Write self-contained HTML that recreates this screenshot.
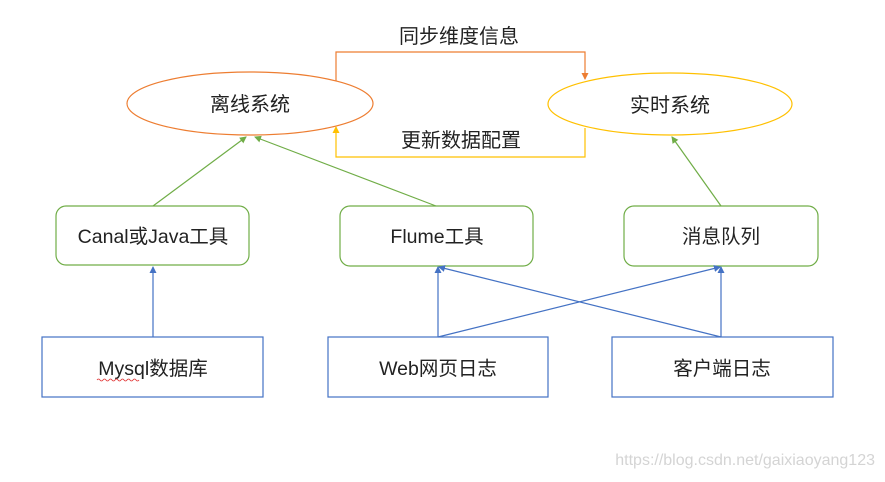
<!DOCTYPE html>
<html><head><meta charset="utf-8"><style>
body{margin:0;background:#fff;}
svg text{font-family:"Liberation Sans","Noto Sans CJK SC",sans-serif;fill:#222;}
</style></head><body>
<svg width="885" height="477" viewBox="0 0 885 477" xmlns="http://www.w3.org/2000/svg">
<defs>
<marker id="ag" markerWidth="8" markerHeight="8" refX="6" refY="4" orient="auto" markerUnits="userSpaceOnUse"><path d="M0,0.5 L7,4 L0,7.5z" fill="#70ad47"/></marker>
<marker id="ab" markerWidth="8" markerHeight="8" refX="6" refY="4" orient="auto" markerUnits="userSpaceOnUse"><path d="M0,0.5 L7,4 L0,7.5z" fill="#4472c4"/></marker>
<marker id="ao" markerWidth="8" markerHeight="8" refX="6" refY="4" orient="auto" markerUnits="userSpaceOnUse"><path d="M0,0.5 L7,4 L0,7.5z" fill="#ed7d31"/></marker>
<marker id="ay" markerWidth="8" markerHeight="8" refX="6" refY="4" orient="auto" markerUnits="userSpaceOnUse"><path d="M0,0.5 L7,4 L0,7.5z" fill="#ffc000"/></marker>
</defs>
<ellipse cx="250" cy="103.5" rx="123" ry="31.5" fill="none" stroke="#ed7d31" stroke-width="1.2"/>
<ellipse cx="670" cy="104" rx="122" ry="31" fill="none" stroke="#ffc000" stroke-width="1.2"/>
<text x="250" y="111" font-size="20" text-anchor="middle">离线系统</text>
<text x="670" y="112" font-size="20" text-anchor="middle">实时系统</text>
<polyline points="336,81 336,52 585,52 585,79" fill="none" stroke="#ed7d31" stroke-width="1.2" marker-end="url(#ao)"/>
<polyline points="585,128 585,157 336,157 336,127" fill="none" stroke="#ffc000" stroke-width="1.2" marker-end="url(#ay)"/>
<text x="459" y="43" font-size="20" text-anchor="middle">同步维度信息</text>
<text x="461" y="147" font-size="20" text-anchor="middle">更新数据配置</text>
<g fill="none" stroke="#70ad47" stroke-width="1.2">
<rect x="56" y="206" width="193" height="59" rx="10"/>
<rect x="340" y="206" width="193" height="60" rx="10"/>
<rect x="624" y="206" width="194" height="60" rx="10"/>
<line x1="153" y1="206" x2="246" y2="137" marker-end="url(#ag)"/>
<line x1="436" y1="206" x2="255" y2="137" marker-end="url(#ag)"/>
<line x1="721" y1="206" x2="672" y2="137" marker-end="url(#ag)"/>
</g>
<text x="153" y="243" font-size="19.5" text-anchor="middle">Canal或Java工具</text>
<text x="437" y="243" font-size="19.5" text-anchor="middle">Flume工具</text>
<text x="721" y="243" font-size="19.5" text-anchor="middle">消息队列</text>
<g fill="none" stroke="#4472c4" stroke-width="1.2">
<rect x="42" y="337" width="221" height="60"/>
<rect x="328" y="337" width="220" height="60"/>
<rect x="612" y="337" width="221" height="60"/>
<line x1="153" y1="337" x2="153" y2="267" marker-end="url(#ab)"/>
<line x1="438" y1="337" x2="438" y2="267" marker-end="url(#ab)"/>
<line x1="438" y1="337" x2="720" y2="267" marker-end="url(#ab)"/>
<line x1="721" y1="337" x2="721" y2="267" marker-end="url(#ab)"/>
<line x1="721" y1="337" x2="439" y2="267" marker-end="url(#ab)"/>
</g>
<text x="153" y="375" font-size="19.5" text-anchor="middle">Mysql数据库</text>
<path d="M97,380 q1.5,-2 3,0 t3,0 t3,0 t3,0 t3,0 t3,0 t3,0 t3,0 t3,0 t3,0 t3,0 t3,0 t3,0 t3,0" fill="none" stroke="#e03030" stroke-width="0.8"/>
<text x="438" y="375" font-size="19.5" text-anchor="middle">Web网页日志</text>
<text x="722" y="375" font-size="19.5" text-anchor="middle">客户端日志</text>
<text x="875" y="465" font-size="16" text-anchor="end" style="fill:#d4d4d4">https://blog.csdn.net/gaixiaoyang123</text>
</svg>
</body></html>
